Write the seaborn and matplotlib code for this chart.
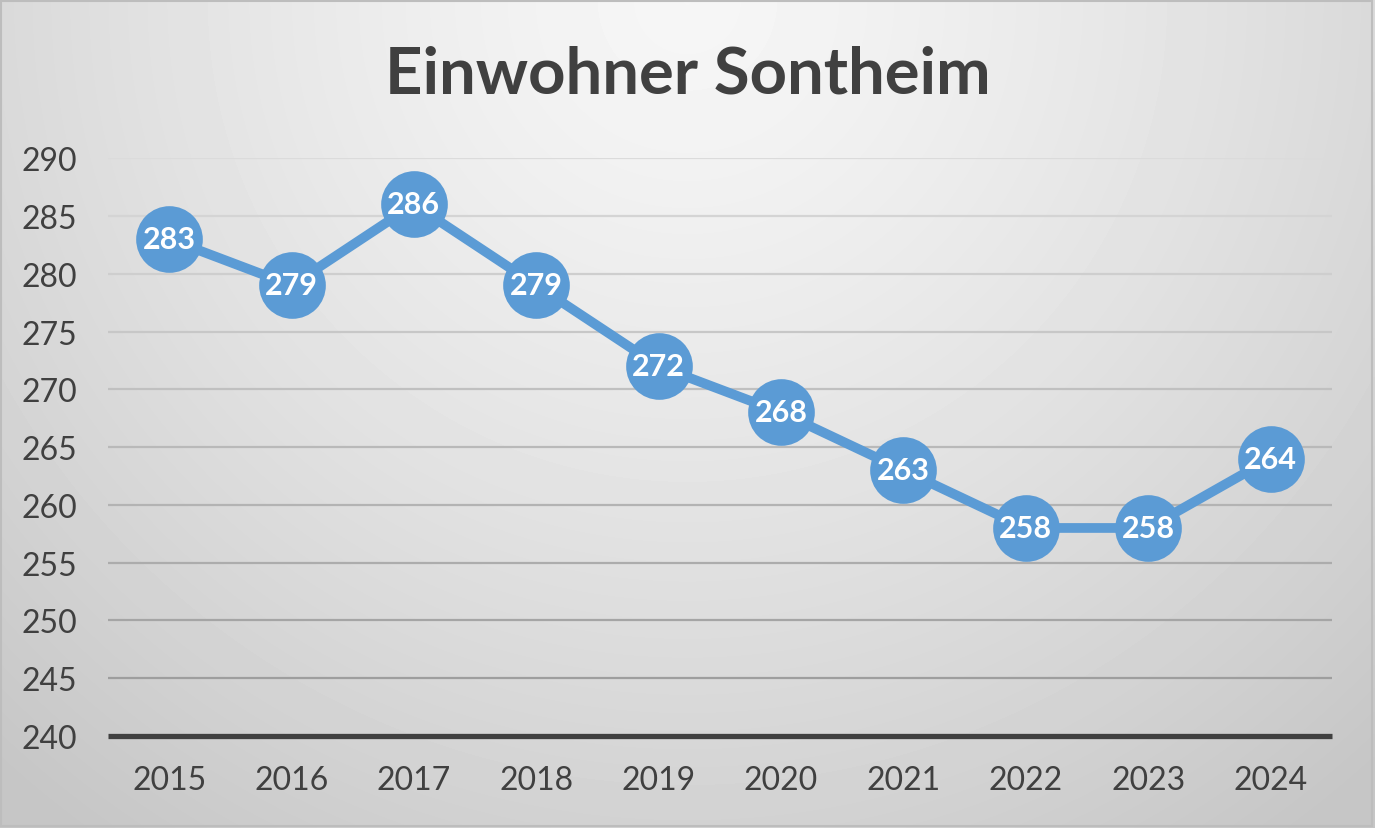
import numpy as np
import pandas as pd
import matplotlib
matplotlib.use("Agg")
import matplotlib.pyplot as plt
import seaborn as sns

# Daten
jahre = ["2015", "2016", "2017", "2018", "2019", "2020", "2021", "2022", "2023", "2024"]
einwohner = [283, 279, 286, 279, 272, 268, 263, 258, 258, 264]
y_ticks = [240, 245, 250, 255, 260, 265, 270, 275, 280, 285, 290]
titel = "Einwohner Sontheim"

df = pd.DataFrame({"Jahr": jahre, "Einwohner": einwohner})

sns.set_theme(style="white")
plt.rcParams["font.family"] = ["Lato", "DejaVu Sans"]

blau = "#5b9bd5"
text_farbe = "#404040"

fig = plt.figure(figsize=(13.75, 8.29), dpi=100)

# Hintergrund mit radialem Verlauf
bg = fig.add_axes([0, 0, 1, 1], zorder=-10)
gx, gy = np.meshgrid(np.linspace(0, 1, 400), np.linspace(0, 1, 250))
r = np.sqrt(((gx - 0.5) / 0.75) ** 2 + ((gy - 1.0) / 1.25) ** 2)
r = np.clip(r, 0, 1)
grau = 0.965 - 0.19 * r ** 1.3
bg.imshow(grau, cmap="gray", vmin=0, vmax=1, origin="lower",
          extent=[0, 1, 0, 1], aspect="auto", interpolation="bilinear")
bg.set_axis_off()
fig.patches.append(plt.Rectangle((0.001, 0.002), 0.997, 0.995, transform=fig.transFigure,
                                 fill=False, edgecolor="#bdbdbd", linewidth=1.5))

ax = fig.add_axes([0.0785, 0.111, 0.890, 0.697])
ax.set_facecolor("none")

# Gitterlinien, nach unten dunkler
for i, t in enumerate(y_ticks[1:]):
    f = 0.62 + 0.24 * (i / (len(y_ticks) - 2))
    ax.axhline(t, color=str(f), linewidth=1.6, zorder=1)
ax.axhline(y_ticks[0], color=text_farbe, linewidth=3.8, zorder=2, clip_on=False,
           solid_capstyle="butt")

sns.lineplot(data=df, x="Jahr", y="Einwohner", ax=ax, color=blau, linewidth=7,
             marker="o", markersize=48, markeredgewidth=0, zorder=3, clip_on=False)

for i, v in enumerate(einwohner):
    ax.text(i, v, str(v), color="white", fontsize=22, fontweight="bold",
            ha="center", va="center", zorder=4)

ax.set_xlim(-0.5, len(jahre) - 0.5)
ax.set_ylim(y_ticks[0], y_ticks[-1])
ax.set_yticks(y_ticks)
ax.set_xlabel("")
ax.set_ylabel("")
ax.tick_params(axis="both", labelsize=23, labelcolor=text_farbe, length=0)
ax.tick_params(axis="y", pad=22)
ax.tick_params(axis="x", pad=21)
for s in ax.spines.values():
    s.set_visible(False)

fig.text(0.5, 0.909, titel, ha="center", va="center", fontsize=47,
         fontweight="bold", color=text_farbe)

fig.savefig("out.png", dpi=100)
